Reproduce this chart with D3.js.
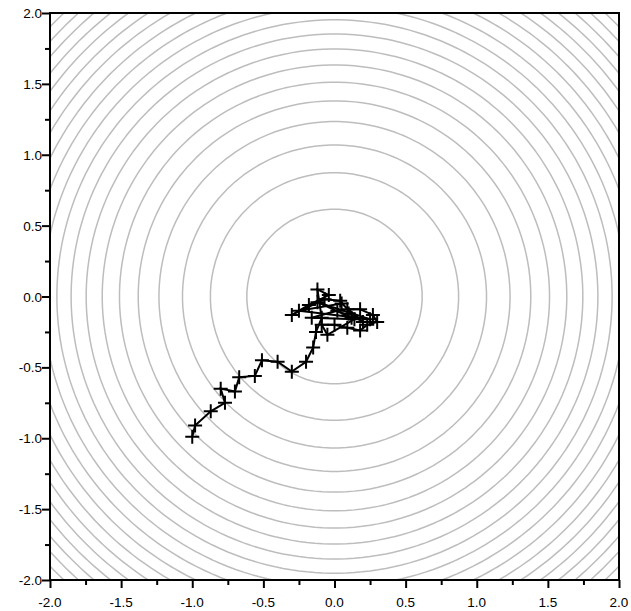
<!DOCTYPE html>
<html lang="en">
	<head>
		<meta charset="utf-8">
		<title>D3: Contour with path</title>
		<script type="text/javascript" src="https://cdn.jsdelivr.net/npm/d3@7"></script>
		<style type="text/css">
			body { margin: 0; background: #fff; }
			text { font-family: "Liberation Sans", Arial, sans-serif; font-size: 13.5px; fill: #000; }
		</style>
	</head>
	<body>
		<script type="text/javascript">

		//Tick values
		var xTicks = [-2.0, -1.5, -1.0, -0.5, 0.0, 0.5, 1.0, 1.5, 2.0];
		var yTicks = [-2.0, -1.5, -1.0, -0.5, 0.0, 0.5, 1.0, 1.5, 2.0];

		//Contour levels of x^2 + y^2 (20 levels between 0 and 8)
		var levels = [0.381, 0.762, 1.143, 1.524, 1.905, 2.286, 2.667, 3.048, 3.429, 3.810,
					  4.190, 4.571, 4.952, 5.333, 5.714, 6.095, 6.476, 6.857, 7.238, 7.619];

		//Path of the iterates
		var pathX = [-1.00, -0.98, -0.87, -0.77, -0.80, -0.70, -0.67, -0.56, -0.51, -0.40, -0.30, -0.20, -0.15, -0.13,
					 -0.09, -0.12, -0.04, -0.18, -0.30, -0.07, 0.04, 0.09, 0.18, 0.27, 0.30, 0.23, 0.18, 0.09,
					 0.00, -0.09, -0.05, 0.14, -0.16, 0.02, 0.12, -0.12, 0.25, -0.25, 0.05, 0.20, 0.10];
		var pathY = [-0.99, -0.91, -0.81, -0.75, -0.65, -0.67, -0.57, -0.56, -0.45, -0.46, -0.53, -0.46, -0.36, -0.25,
					 -0.15, 0.05, 0.01, -0.06, -0.13, -0.02, -0.03, -0.09, -0.09, -0.13, -0.18, -0.20, -0.24, -0.22,
					 -0.20, -0.20, -0.27, -0.16, -0.15, -0.10, -0.15, -0.04, -0.16, -0.10, -0.05, -0.18, -0.12];

		//Width and height
		var w = 631;
		var h = 611;
		var margin = { left: 50, right: 12, top: 13, bottom: 31 };

		var xScale = d3.scaleLinear().domain([-2, 2]).range([margin.left, w - margin.right]);
		var yScale = d3.scaleLinear().domain([-2, 2]).range([h - margin.bottom, margin.top]);

		var svg = d3.select("body")
					.append("svg")
					.attr("width", w)
					.attr("height", h);

		svg.append("clipPath")
			.attr("id", "plotclip")
			.append("rect")
			.attr("x", xScale(-2))
			.attr("y", yScale(2))
			.attr("width", xScale(2) - xScale(-2))
			.attr("height", yScale(-2) - yScale(2));

		//Grid values for the contours, a bit wider than the plot so the edges are clipped away
		var n = 90;
		var g0 = -2.5, g1 = 2.5;
		var step = (g1 - g0) / n;
		var grid = new Array(n * n);
		for (var j = 0; j < n; j++) {
			for (var i = 0; i < n; i++) {
				var gx = g0 + (i + 0.5) * step;
				var gy = g1 - (j + 0.5) * step;
				grid[j * n + i] = gx * gx + gy * gy;
			}
		}

		var contours = d3.contours()
						.size([n, n])
						.thresholds(levels)(grid);

		var proj = d3.geoTransform({
			point: function(px, py) {
				this.stream.point(xScale(g0 + px * step), yScale(g1 - py * step));
			}
		});

		svg.append("g")
			.attr("clip-path", "url(#plotclip)")
			.selectAll("path")
			.data(contours)
			.enter()
			.append("path")
			.attr("d", d3.geoPath(proj))
			.attr("fill", "none")
			.attr("stroke", "#bdbdbd")
			.attr("stroke-width", 1.5);

		//Iterate path
		var pts = pathX.map(function(d, k) { return [d, pathY[k]]; });

		var line = d3.line()
					.x(function(d) { return xScale(d[0]); })
					.y(function(d) { return yScale(d[1]); });

		svg.append("path")
			.datum(pts)
			.attr("d", line)
			.attr("fill", "none")
			.attr("stroke", "#000")
			.attr("stroke-width", 2);

		//Plus marks
		svg.selectAll("path.mark")
			.data(pts)
			.enter()
			.append("path")
			.attr("class", "mark")
			.attr("transform", function(d) {
				return "translate(" + xScale(d[0]) + "," + yScale(d[1]) + ")";
			})
			.attr("d", "M-7,0H7M0,-7V7")
			.attr("stroke", "#000")
			.attr("stroke-width", 2);

		//Axes
		var xAxis = d3.axisBottom(xScale)
					.tickValues(d3.range(-2, 2.01, 0.25))
					.tickSize(5)
					.tickFormat("");
		var yAxis = d3.axisLeft(yScale)
					.tickValues(d3.range(-2, 2.01, 0.25))
					.tickSize(5)
					.tickFormat("");

		var gx = svg.append("g")
			.attr("transform", "translate(0," + yScale(-2) + ")")
			.call(xAxis);
		var gy = svg.append("g")
			.attr("transform", "translate(" + xScale(-2) + ",0)")
			.call(yAxis);

		[gx, gy].forEach(function(g) {
			g.select(".domain").remove();
			g.selectAll("line").attr("stroke", "#000").attr("stroke-width", 2);
		});

		//Longer major ticks
		gx.selectAll(".tick line")
			.attr("y2", function(d) { return Math.abs(d * 2 - Math.round(d * 2)) < 1e-6 ? 8 : 5; });
		gy.selectAll(".tick line")
			.attr("x2", function(d) { return Math.abs(d * 2 - Math.round(d * 2)) < 1e-6 ? -8 : -5; });

		//Tick labels
		svg.selectAll("text.xlab")
			.data(xTicks)
			.enter()
			.append("text")
			.attr("class", "xlab")
			.attr("x", function(d) { return xScale(d); })
			.attr("y", yScale(-2) + 27)
			.attr("text-anchor", "middle")
			.text(function(d) { return d.toFixed(1); });

		svg.selectAll("text.ylab")
			.data(yTicks)
			.enter()
			.append("text")
			.attr("class", "ylab")
			.attr("x", xScale(-2) - 8)
			.attr("y", function(d) { return yScale(d) + 5; })
			.attr("text-anchor", "end")
			.text(function(d) { return d.toFixed(1); });

		//Frame
		svg.append("rect")
			.attr("x", xScale(-2))
			.attr("y", yScale(2))
			.attr("width", xScale(2) - xScale(-2))
			.attr("height", yScale(-2) - yScale(2))
			.attr("fill", "none")
			.attr("stroke", "#000")
			.attr("stroke-width", 2);

		</script>
	</body>
</html>
